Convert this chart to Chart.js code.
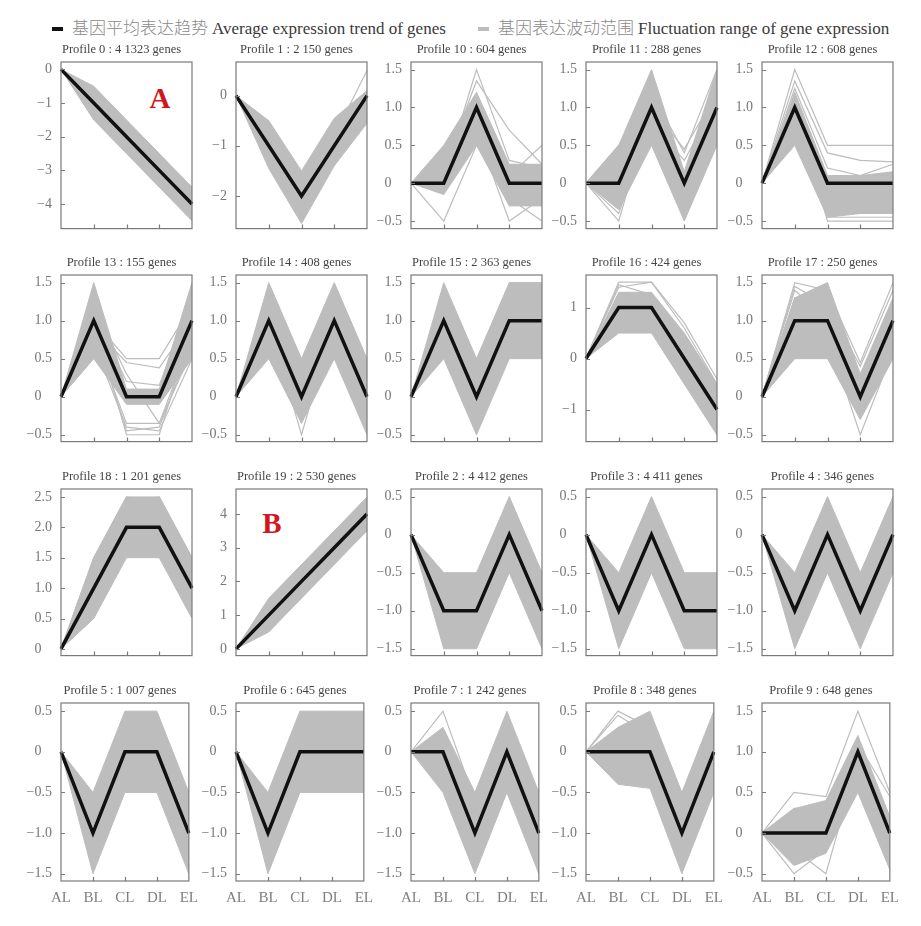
<!DOCTYPE html>
<html>
<head>
<meta charset="utf-8">
<script src="https://cdn.jsdelivr.net/npm/chart.js@4.4.1/dist/chart.umd.min.js"></script>
<style>
    body { margin: 0; background: #fff; width: 921px; height: 926px; position: relative; overflow: hidden; font-family: "Liberation Serif", serif; }
    .panel { position: absolute; }
    .legend-item { position: absolute; top: 16px; font-size: 17px; white-space: nowrap; line-height: 22px; }
    .legend-item .mark { display: inline-block; width: 11px; height: 4px; vertical-align: middle; margin-right: 9px; position: relative; top: -1px; }
    .legend-item .zh { font-family: "Noto Sans CJK SC", sans-serif; font-weight: 300; color: #8a8a8a; margin-right: 4px; }
    .legend-item .en { color: #3a3a3a; }
    .tag { position: absolute; color: #d2161e; font-weight: bold; font-size: 29px; font-family: "Liberation Serif", serif; transform: translate(-50%, -50%); }
</style>
</head>
<body>
<div class="legend-item" style="left:52px"><span class="mark" style="background:#111"></span><span class="zh">基因平均表达趋势</span><span class="en">Average expression trend of genes</span></div>
<div class="legend-item" style="left:478px"><span class="mark" style="background:#bdbdbd"></span><span class="zh">基因表达波动范围</span><span class="en">Fluctuation range of gene expression</span></div>
<div class="tag" style="left:160px;top:98px">A</div>
<div class="tag" style="left:272px;top:523px">B</div>

<script>
// 样本（横轴）
const categories = ['AL', 'BL', 'CL', 'DL', 'EL'];

// 面板顺序：按图中从左到右、从上到下
const profileIds = [0, 1, 10, 11, 12, 13, 14, 15, 16, 17, 18, 19, 2, 3, 4, 5, 6, 7, 8, 9];
const geneCounts = ['4 1323', '2 150', '604', '288', '608', '155', '408', '2 363', '424', '250',
    '1 201', '2 530', '4 412', '4 411', '346', '1 007', '645', '1 242', '348', '648'];

// 平均表达趋势（黑线）
const meanTrends = [
    [0, -1, -2, -3, -4], [0, -1, -2, -1, 0], [0, 0, 1, 0, 0], [0, 0, 1, 0, 1], [0, 1, 0, 0, 0],
    [0, 1, 0, 0, 1], [0, 1, 0, 1, 0], [0, 1, 0, 1, 1], [0, 1, 1, 0, -1], [0, 1, 1, 0, 1],
    [0, 1, 2, 2, 1], [0, 1, 2, 3, 4], [0, -1, -1, 0, -1], [0, -1, 0, -1, -1], [0, -1, 0, -1, 0],
    [0, -1, 0, 0, -1], [0, -1, 0, 0, 0], [0, 0, -1, 0, -1], [0, 0, 0, -1, 0], [0, 0, 0, 1, 0]
];

// 波动范围上界 / 下界（灰色区域）
const bandUpper = [
    [0, -0.5, -1.5, -2.5, -3.5], [0, -0.5, -1.5, -0.45, 0.1], [0, 0.5, 1.2, 0.25, 0.25], [0, 0.5, 1.5, 0.15, 1.5], [0, 1.2, 0.1, 0.1, 0.15],
    [0, 1.5, 0.1, 0.1, 1.5], [0, 1.5, 0.5, 1.5, 0.5], [0, 1.5, 0.5, 1.5, 1.5], [0, 1.3, 1.3, 0.5, -0.5], [0, 1.3, 1.5, 0.3, 1.3],
    [0, 1.5, 2.5, 2.5, 1.5], [0, 1.5, 2.5, 3.5, 4.5], [0, -0.5, -0.5, 0.5, -0.5], [0, -0.5, 0.5, -0.5, -0.5], [0, -0.5, 0.5, -0.5, 0.5],
    [0, -0.5, 0.5, 0.5, -0.5], [0, -0.5, 0.5, 0.5, 0.5], [0, 0.3, -0.5, 0.5, -0.5], [0, 0.3, 0.5, -0.5, 0.5], [0, 0.3, 0.4, 1.2, 0.2]
];
const bandLower = [
    [0, -1.5, -2.5, -3.5, -4.5], [0, -1.45, -2.55, -1.4, -0.55], [0, -0.15, 0.5, -0.3, -0.3], [0, -0.35, 0.5, -0.5, 0.5], [0, 0.5, -0.45, -0.4, -0.4],
    [0, 0.5, -0.1, -0.1, 0.5], [0, 0.5, -0.35, 0.5, -0.5], [0, 0.5, -0.5, 0.5, 0.5], [0, 0.5, 0.5, -0.5, -1.5], [0, 0.5, 0.5, -0.3, 0.5],
    [0, 0.5, 1.5, 1.5, 0.5], [0, 0.5, 1.5, 2.5, 3.5], [0, -1.5, -1.5, -0.5, -1.5], [0, -1.5, -0.5, -1.5, -1.5], [0, -1.5, -0.5, -1.5, -0.5],
    [0, -1.5, -0.5, -0.5, -1.5], [0, -1.5, -0.5, -0.5, -0.5], [0, -0.5, -1.5, -0.5, -1.5], [0, -0.4, -0.45, -1.5, -0.5], [0, -0.4, -0.25, 0.5, -0.45]
];

// 超出主体范围的个别基因曲线
const outlierLines = [
    [],
    [[0, -1.2, -2.3, -0.8, 0.5]],
    [[0, -0.5, 0.5, 0.15, 0.1], [0, 0.1, 1.5, 0.3, 0.2], [0, 0.2, 1.35, 0.7, 0.25], [0, -0.05, 0.7, -0.5, -0.2], [0, 0.05, 0.9, 0.1, 0.5], [0, 0, 0.9, -0.2, -0.5]],
    [[0, -0.5, 1.0, 0.45, 1.2], [0, 0.5, 1.2, 0.4, 1.5], [0, -0.4, 0.8, 0.3, 1.1]],
    [[0, 1.5, 0.5, 0.5, 0.5], [0, 1.35, 0.4, 0.3, 0.28], [0, 1.0, -0.5, -0.5, -0.5], [0, 1.25, 0.2, 0.1, 0.25], [0, 0.8, -0.45, -0.45, -0.45]],
    [[0, 1.0, 0.5, 0.5, 1.2], [0, 0.9, 0.45, 0.38, 1.0], [0, 1.2, 0.3, -0.35, 0.8], [0, 0.8, -0.35, -0.35, 0.6], [0, 0.9, -0.45, -0.4, 0.7], [0, 1.0, -0.5, -0.5, 0.9], [0, 1.1, 0.2, 0.15, 1.3], [0, 0.7, -0.4, -0.45, 0.5]],
    [[0, 1.0, -0.5, 1.0, 0.0]],
    [],
    [[0, 1.5, 1.5, 0.7, -0.4], [0, 1.45, 1.25, 0.3, -0.6], [0, 1.4, 1.5, 0.6, -0.5]],
    [[0, 1.5, 1.4, 0.45, 1.5], [0, 1.45, 1.2, 0.2, 1.1], [0, 0.7, 0.8, -0.5, 0.6], [0, 1.3, 1.2, 0.4, 1.4], [0, 1.4, 1.0, 0.1, 1.2]],
    [[0, 1.5, 2.5, 2.4, 1.3], [0, 1.4, 2.4, 2.5, 1.5]],
    [], [], [], [], [], [],
    [[0, 0.5, -0.6, 0.3, -0.8]],
    [[0, 0.5, 0.3, -0.7, 0.2], [0, 0.45, 0.2, -0.8, 0.1]],
    [[0, 0.5, 0.45, 1.5, 0.5], [0, -0.5, -0.2, 1.0, 0.2], [0, -0.2, -0.5, 0.9, -0.1], [0, 0.3, 0.35, 1.1, 0.45]]
];

// 纵轴范围与刻度
const yMins = [-4.73, -2.65, -0.6, -0.6, -0.6, -0.59, -0.59, -0.59, -1.63, -0.59, -0.11, -0.2, -1.59, -1.59, -1.59, -1.59, -1.59, -1.59, -1.59, -0.59];
const yMaxs = [0.22, 0.67, 1.6, 1.6, 1.6, 1.6, 1.6, 1.6, 1.64, 1.6, 2.63, 4.74, 0.6, 0.6, 0.6, 0.6, 0.6, 0.6, 0.6, 1.6];
const ticksPos = [-0.5, 0, 0.5, 1, 1.5];
const ticksNeg = [-1.5, -1, -0.5, 0, 0.5];
const yTicks = [
    [-4, -3, -2, -1, 0], [-2, -1, 0], ticksPos, ticksPos, ticksPos,
    ticksPos, ticksPos, ticksPos, [-1, 0, 1], ticksPos,
    [0, 0.5, 1, 1.5, 2, 2.5], [0, 1, 2, 3, 4], ticksNeg, ticksNeg, ticksNeg,
    ticksNeg, ticksNeg, ticksNeg, ticksNeg, ticksPos
];

// 版式
const colLeft = [61, 236, 411, 586, 762];
const rowTop = [62, 275, 489, 703];
const boxW = 131, boxH = 178;
const PAD_L = 50, PAD_T = 26, PAD_R = 14;

const bandColor = '#bdbdbd';
Chart.defaults.font.family = '"Liberation Serif", serif';

// 边框、向内刻度和小标题
const panelDecor = {
    id: 'panelDecor',
    afterDraw(chart, args, opts) {
        const { ctx, chartArea: a, scales: { x, y } } = chart;
        ctx.save();
        ctx.strokeStyle = '#7a7a7a';
        ctx.lineWidth = 1.2;
        ctx.strokeRect(a.left, a.top, a.right - a.left, a.bottom - a.top);
        ctx.beginPath();
        y.ticks.forEach(t => {
            const py = Math.round(y.getPixelForValue(t.value)) + 0.5;
            ctx.moveTo(a.left, py);
            ctx.lineTo(a.left + 4, py);
        });
        for (let k = 1; k < categories.length - 1; k++) {
            const px = Math.round(x.getPixelForValue(k)) + 0.5;
            ctx.moveTo(px, a.bottom);
            ctx.lineTo(px, a.bottom - 4);
        }
        ctx.stroke();
        ctx.fillStyle = '#444';
        ctx.font = '12.5px "Liberation Serif"';
        ctx.textAlign = 'center';
        ctx.textBaseline = 'alphabetic';
        ctx.fillText(opts.title, (a.left + a.right) / 2 - 5, a.top - 9);
        ctx.restore();
    }
};

// 小数刻度里的 "0" 与 "0.5" 左对齐，所以后面补空格
function tickText(v, decimals) {
    if (v === 0) return decimals ? '0   ' : '0';
    return v.toFixed(decimals).replace('-', '\u2212');
}

profileIds.forEach(function (pid, i) {
    const row = Math.floor(i / 5), col = i % 5;
    const bottom = row === 3 ? 32 : 6;
    const w = PAD_L + boxW + PAD_R, h = PAD_T + boxH + bottom;

    const wrap = document.createElement('div');
    wrap.className = 'panel';
    wrap.style.left = (colLeft[col] - PAD_L) + 'px';
    wrap.style.top = (rowTop[row] - PAD_T) + 'px';
    const canvas = document.createElement('canvas');
    canvas.width = w;
    canvas.height = h;
    canvas.style.width = w + 'px';
    canvas.style.height = h + 'px';
    wrap.appendChild(canvas);
    document.body.appendChild(wrap);

    const decimals = yTicks[i].some(v => !Number.isInteger(v)) ? 1 : 0;

    const datasets = [{
        data: meanTrends[i], borderColor: '#111', borderWidth: 3.5, order: 0
    }];
    outlierLines[i].forEach(line => {
        datasets.push({ data: line, borderColor: bandColor, borderWidth: 1.2, order: 1 });
    });
    datasets.push({
        data: bandLower[i], borderColor: bandColor, borderWidth: 1, fill: false, order: 2
    });
    datasets.push({
        data: bandUpper[i], borderColor: bandColor, borderWidth: 1,
        fill: '-1', backgroundColor: bandColor, order: 2
    });

    new Chart(canvas, {
        type: 'line',
        data: { labels: categories, datasets: datasets },
        options: {
            responsive: false,
            animation: false,
            elements: { point: { radius: 0 }, line: { tension: 0 } },
            layout: { padding: { top: PAD_T, right: PAD_R, left: 0, bottom: 0 } },
            plugins: {
                legend: { display: false },
                tooltip: { enabled: false },
                panelDecor: { title: 'Profile ' + pid + ' : ' + geneCounts[i] + ' genes' }
            },
            scales: {
                x: {
                    type: 'category',
                    offset: false,
                    grid: { display: false, drawTicks: false },
                    border: { display: false },
                    ticks: { display: row === 3, color: '#808080', font: { size: 15 }, padding: 8, maxRotation: 0, autoSkip: false },
                    afterFit: s => { s.height = bottom; }
                },
                y: {
                    min: yMins[i],
                    max: yMaxs[i],
                    grid: { display: false, drawTicks: false },
                    border: { display: false },
                    afterBuildTicks: s => { s.ticks = yTicks[i].map(v => ({ value: v })); },
                    ticks: { color: '#777', font: { size: 14 }, padding: 9, callback: v => tickText(v, decimals) },
                    afterFit: s => { s.width = PAD_L; }
                }
            }
        },
        plugins: [panelDecor]
    });
});
</script>
</body>
</html>
